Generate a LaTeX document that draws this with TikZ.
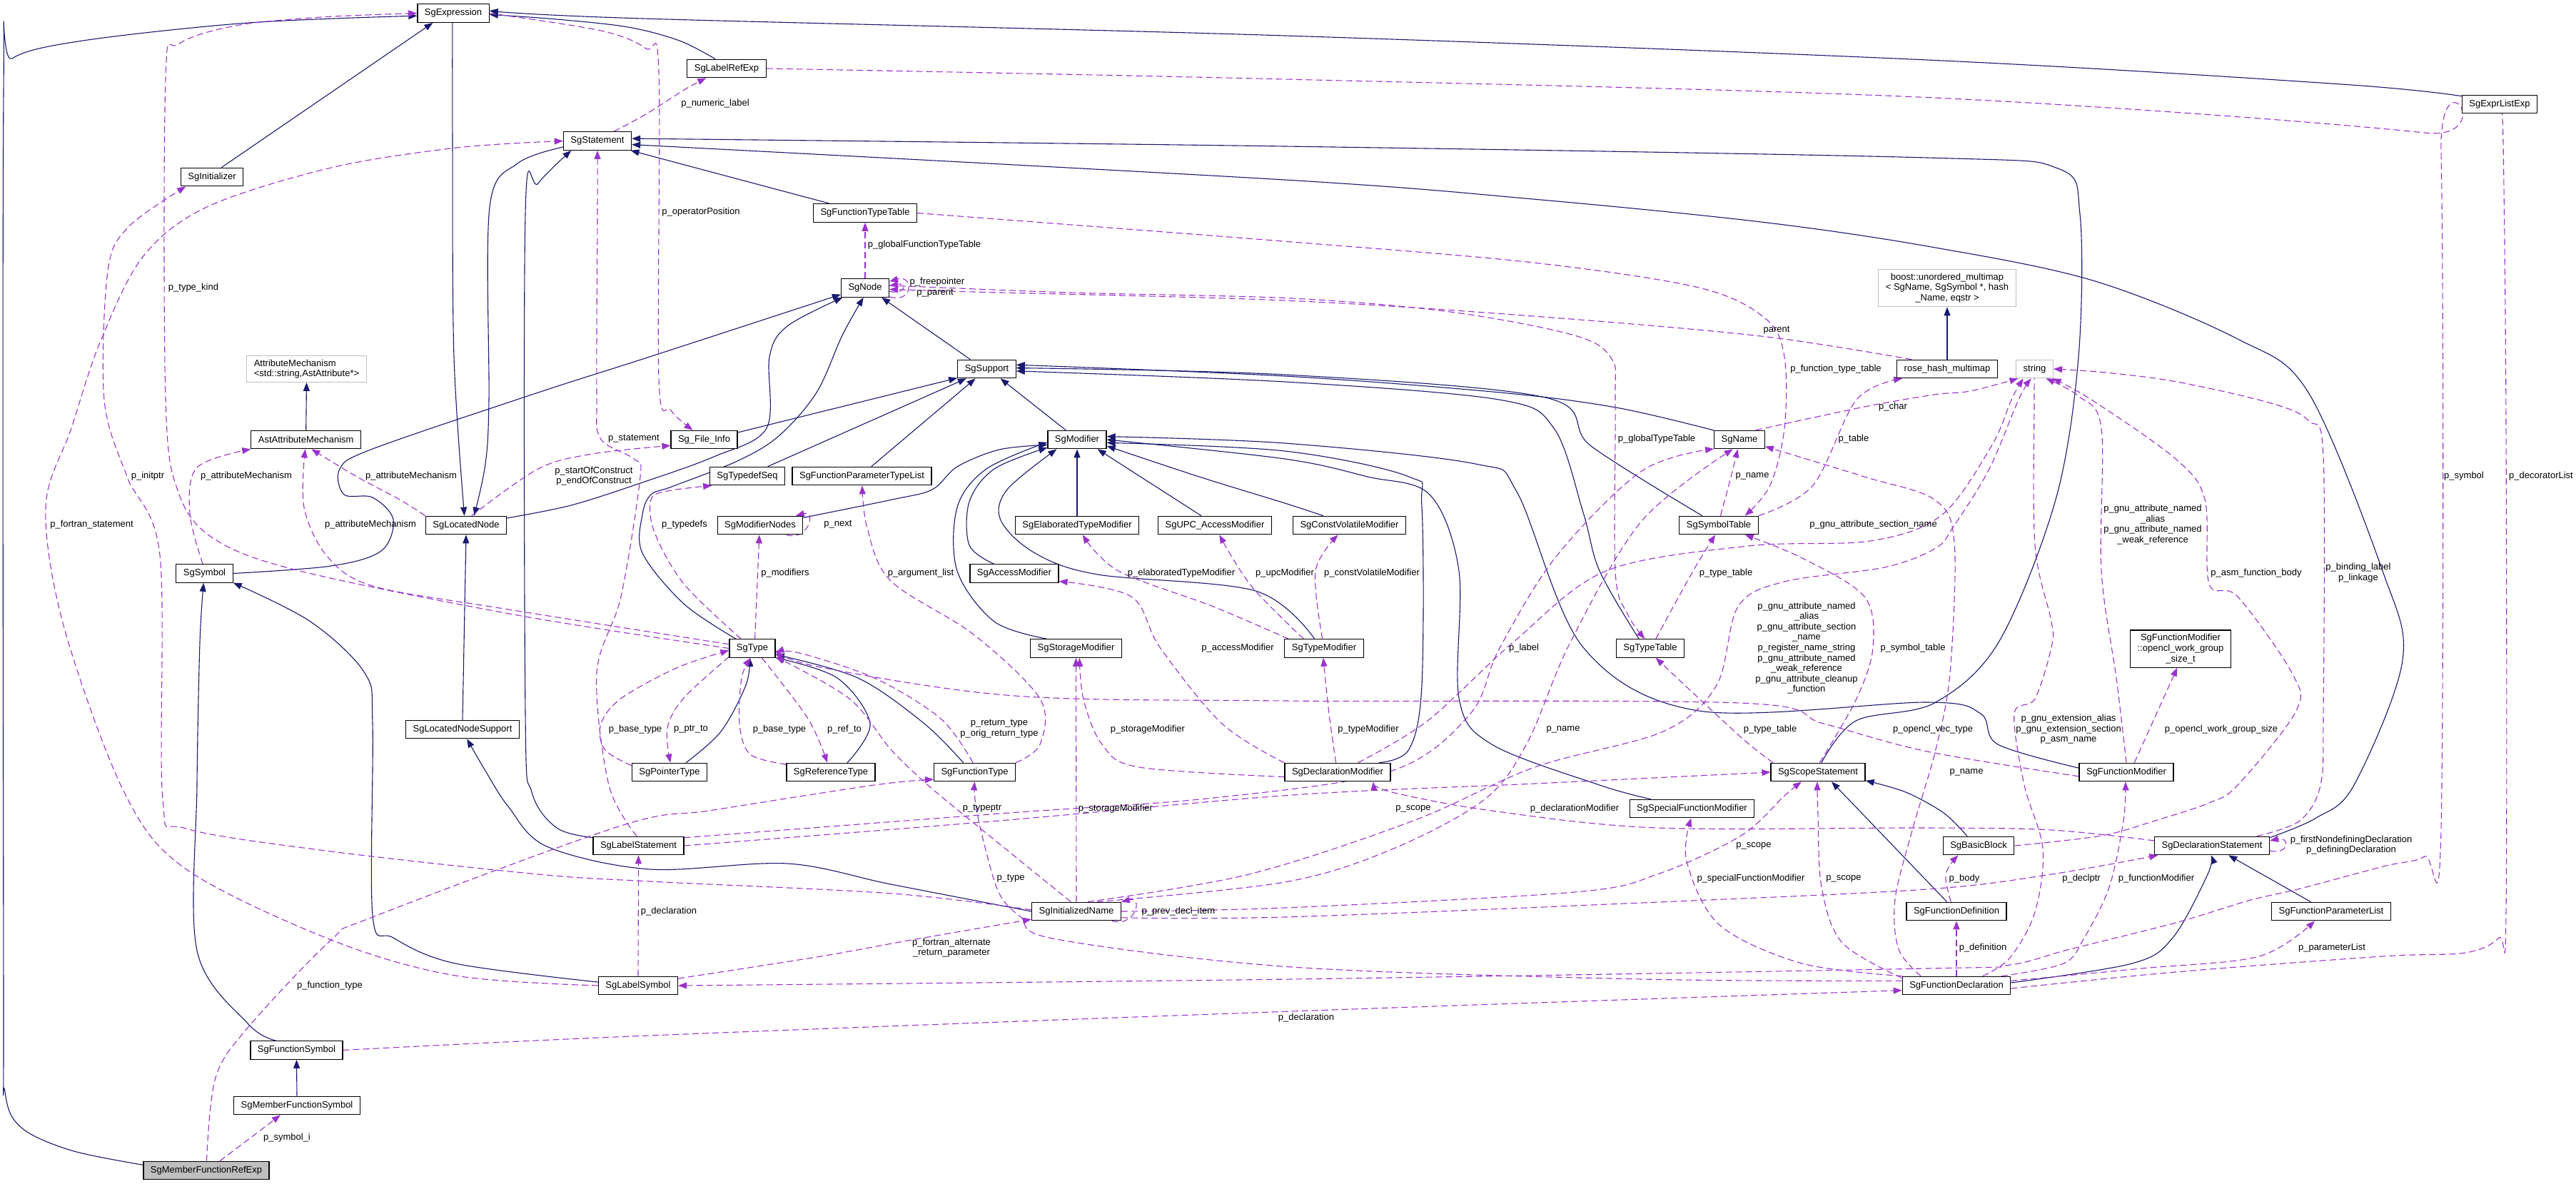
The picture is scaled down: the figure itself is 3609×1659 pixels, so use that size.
\documentclass[tikz,border=0pt]{standalone}
\usepackage{fontspec}
\setmainfont{Liberation Sans}
\usetikzlibrary{arrows.meta}
\definecolor{inhc}{HTML}{191970}
\definecolor{usec}{HTML}{9A32CD}
\definecolor{grayb}{HTML}{BFBFBF}
\pgfdeclarelayer{bg}
\pgfdeclarelayer{edges}
\pgfsetlayers{bg,edges,main}
\begin{document}
\begin{tikzpicture}[x=1pt,y=-1pt,
 cls/.style={draw=black,line width=1.2pt,fill=white,inner xsep=10pt,inner ysep=0pt,minimum height=25.5pt,font=\fontsize{13}{14.6}\selectfont,align=center},
 extcls/.style={cls,draw=grayb},
 lbl/.style={inner sep=0pt,font=\fontsize{13}{14.6}\selectfont,align=center},
 inhe/.style={draw=inhc,line width=1.1pt,-{Triangle[length=12pt,width=9pt]}},
 usage/.style={draw=usec,line width=1.1pt,dash pattern=on 9pt off 5pt,-{Triangle[length=12pt,width=9pt]}},
 sm/.style={smooth,tension=0.55}
]
\useasboundingbox (0,0) rectangle (3609,1659);
\begin{pgfonlayer}{bg}
\fill[white] (0,0) rectangle (3609,1659);
\end{pgfonlayer}

% ---------- classes ----------
\node[cls] (expr) at (635,18.6) {SgExpression};
\node[cls] (init) at (297,248) {SgInitializer};
\node[cls] (labelref) at (1018,96) {SgLabelRefExp};
\node[cls] (exprlist) at (3502,146) {SgExprListExp};
\node[cls] (stmt) at (837,197.5) {SgStatement};
\node[cls] (ftt) at (1212,298.5) {SgFunctionTypeTable};
\node[cls] (sgnode) at (1212,403.5) {SgNode};
\node[extcls,inner ysep=5.5pt] (boost) at (2728,403.5) {boost::unordered\_multimap\\< SgName, SgSymbol *, hash\\\_Name, eqstr >};
\node[cls] (support) at (1382.5,517) {SgSupport};
\node[cls] (rose) at (2728,517) {rose\_hash\_multimap};
\node[extcls] (string) at (2850.5,517) {string};
\node[extcls,align=left,inner ysep=5pt] (attrm) at (429.5,517) {AttributeMechanism\\<std::string,AstAttribute*>};
\node[cls] (astattr) at (428.7,616) {AstAttributeMechanism};
\node[cls] (fileinfo) at (986.5,616) {Sg\_File\_Info};
\node[cls] (modifier) at (1509,616) {SgModifier};
\node[cls] (name) at (2437,616) {SgName};
\node[cls] (typedefseq) at (1047,667) {SgTypedefSeq};
\node[cls] (fptl) at (1207.5,667) {SgFunctionParameterTypeList};
\node[cls] (located) at (653,736) {SgLocatedNode};
\node[cls] (modnodes) at (1065,736) {SgModifierNodes};
\node[cls] (elab) at (1509,736) {SgElaboratedTypeModifier};
\node[cls] (upc) at (1702,736) {SgUPC\_AccessModifier};
\node[cls] (cv) at (1890.5,736) {SgConstVolatileModifier};
\node[cls] (symtab) at (2408,736) {SgSymbolTable};
\node[cls] (symbol) at (286.5,803.5) {SgSymbol};
\node[cls] (access) at (1421,803.5) {SgAccessModifier};
\node[cls] (type) at (1054,908.5) {SgType};
\node[cls] (storage) at (1507.5,908.5) {SgStorageModifier};
\node[cls] (typemod) at (1855,908.5) {SgTypeModifier};
\node[cls] (typetab) at (2312,908.5) {SgTypeTable};
\node[cls,inner ysep=5.5pt] (opencl) at (3055,909) {SgFunctionModifier\\::opencl\_work\_group\\\_size\_t};
\node[cls] (lnsupport) at (648,1022) {SgLocatedNodeSupport};
\node[cls] (ptr) at (938,1082) {SgPointerType};
\node[cls] (ref) at (1164,1082) {SgReferenceType};
\node[cls] (ftype) at (1365.5,1082) {SgFunctionType};
\node[cls] (declmod) at (1874,1082) {SgDeclarationModifier};
\node[cls] (scope) at (2547,1082) {SgScopeStatement};
\node[cls] (fmod) at (2979,1082) {SgFunctionModifier};
\node[cls] (sfmod) at (2370.5,1133) {SgSpecialFunctionModifier};
\node[cls] (labelstmt) at (894.5,1185) {SgLabelStatement};
\node[cls] (bblock) at (2772,1185) {SgBasicBlock};
\node[cls] (declstmt) at (3099,1185) {SgDeclarationStatement};
\node[cls] (initname) at (1508,1277) {SgInitializedName};
\node[cls] (fdef) at (2741,1277) {SgFunctionDefinition};
\node[cls] (fparlist) at (3266,1277) {SgFunctionParameterList};
\node[cls] (labelsym) at (894,1381) {SgLabelSymbol};
\node[cls] (fdecl) at (2741,1381) {SgFunctionDeclaration};
\node[cls] (fsym) at (415.5,1471.5) {SgFunctionSymbol};
\node[cls] (mfsym) at (416,1549) {SgMemberFunctionSymbol};
\node[cls,fill=grayb] (mfref) at (289,1640) {SgMemberFunctionRefExp};

% ---------- edge labels ----------
\node[lbl] (t1) at (271,403) {p\_type\_kind};
\node[lbl] (t2) at (1002,145) {p\_numeric\_label};
\node[lbl] (t3) at (982,297.5) {p\_operatorPosition};
\node[lbl] (t4) at (1295,343) {p\_globalFunctionTypeTable};
\node[lbl] (t5) at (1313,395) {p\_freepointer};
\node[lbl] (t6) at (1310,410.7) {p\_parent};
\node[lbl] (t7) at (2489,463) {parent};
\node[lbl] (t8) at (2572,517) {p\_function\_type\_table};
\node[lbl] (t9) at (888,615) {p\_statement};
\node[lbl] (t10) at (207,667) {p\_initptr};
\node[lbl] (t11) at (345,667) {p\_attributeMechanism};
\node[lbl] (t12) at (576,667) {p\_attributeMechanism};
\node[lbl] (t13) at (832,667) {p\_startOfConstruct\\p\_endOfConstruct};
\node[lbl] (t14) at (128.5,735) {p\_fortran\_statement};
\node[lbl] (t15) at (519,735) {p\_attributeMechanism};
\node[lbl] (t16) at (959,735) {p\_typedefs};
\node[lbl] (t17) at (1174,735) {p\_next};
\node[lbl] (t18) at (1100,803) {p\_modifiers};
\node[lbl] (t19) at (1290,803) {p\_argument\_list};
\node[lbl] (t20) at (1655,803) {p\_elaboratedTypeModifier};
\node[lbl] (t21) at (1800,803) {p\_upcModifier};
\node[lbl] (t22) at (1922,803) {p\_constVolatileModifier};
\node[lbl] (t23) at (1734,908.5) {p\_accessModifier};
\node[lbl] (t24) at (2321,615) {p\_globalTypeTable};
\node[lbl] (t25) at (2652,570) {p\_char};
\node[lbl] (t26) at (2597,615) {p\_table};
\node[lbl] (t27) at (2455,667) {p\_name};
\node[lbl] (t28) at (2624.5,735) {p\_gnu\_attribute\_section\_name};
\node[lbl] (t29) at (2418,803) {p\_type\_table};
\node[lbl] (t30) at (2135,908.5) {p\_label};
\node[lbl] (t31) at (2531,908) {p\_gnu\_attribute\_named\\\_alias\\p\_gnu\_attribute\_section\\\_name\\p\_register\_name\_string\\p\_gnu\_attribute\_named\\\_weak\_reference\\p\_gnu\_attribute\_cleanup\\\_function};
\node[lbl] (t32) at (2680,908.5) {p\_symbol\_table};
\node[lbl] (t33) at (3016,735) {p\_gnu\_attribute\_named\\\_alias\\p\_gnu\_attribute\_named\\\_weak\_reference};
\node[lbl] (t34) at (3161,803) {p\_asm\_function\_body};
\node[lbl] (t35) at (3304,802.5) {p\_binding\_label\\p\_linkage};
\node[lbl] (t36) at (3452,667) {p\_symbol};
\node[lbl] (t37) at (3560,667) {p\_decoratorList};
\node[lbl] (t38) at (890,1022) {p\_base\_type};
\node[lbl] (t39) at (968,1022) {p\_ptr\_to};
\node[lbl] (t40) at (1092,1022) {p\_base\_type};
\node[lbl] (t41) at (1183,1022) {p\_ref\_to};
\node[lbl] (t42) at (1400,1021) {p\_return\_type\\p\_orig\_return\_type};
\node[lbl] (t43) at (1608,1022) {p\_storageModifier};
\node[lbl] (t44) at (1917,1022) {p\_typeModifier};
\node[lbl] (t45) at (2190,1022) {p\_name};
\node[lbl] (t46) at (2480,1022) {p\_type\_table};
\node[lbl] (t47) at (2708,1022) {p\_opencl\_vec\_type};
\node[lbl] (t48) at (2898,1022) {p\_gnu\_extension\_alias\\p\_gnu\_extension\_section\\p\_asm\_name};
\node[lbl] (t49) at (3112,1022) {p\_opencl\_work\_group\_size};
\node[lbl] (t50) at (2755,1082) {p\_name};
\node[lbl] (t51) at (1376,1133) {p\_typeptr};
\node[lbl] (t52) at (1563,1133) {p\_storageModifier};
\node[lbl] (t53) at (1980,1133) {p\_scope};
\node[lbl] (t54) at (2206,1133) {p\_declarationModifier};
\node[lbl] (t55) at (3294,1184) {p\_firstNondefiningDeclaration\\p\_definingDeclaration};
\node[lbl] (t56) at (2457,1185) {p\_scope};
\node[lbl] (t57) at (1416,1231) {p\_type};
\node[lbl] (t58) at (2453,1231) {p\_specialFunctionModifier};
\node[lbl] (t59) at (2583,1231) {p\_scope};
\node[lbl] (t60) at (2752,1231) {p\_body};
\node[lbl] (t61) at (2916,1231) {p\_declptr};
\node[lbl] (t62) at (3021,1231) {p\_functionModifier};
\node[lbl] (t63) at (937,1277) {p\_declaration};
\node[lbl] (t64) at (1651,1277) {p\_prev\_decl\_item};
\node[lbl] (t65) at (1333,1328) {p\_fortran\_alternate\\\_return\_parameter};
\node[lbl] (t66) at (2778,1328.5) {p\_definition};
\node[lbl] (t67) at (3267,1328.5) {p\_parameterList};
\node[lbl] (t68) at (462,1381) {p\_function\_type};
\node[lbl] (t69) at (1830,1426) {p\_declaration};
\node[lbl] (t70) at (402,1594) {p\_symbol\_i};

\begin{pgfonlayer}{edges}
% ---------- inheritance ----------
\draw[inhe] plot[sm] coordinates {(mfref.175) (100,1612) (30,1580) (7,1530) (5,1400) (5,130) (17,82) (116,57) (348,32) (expr.-176)};
\draw[inhe] (init.45) -- (expr.-155);
\draw[inhe] plot[sm] coordinates {(labelref.140) (952,57) (880,38) (780,27) (expr.-2)};
\draw[inhe] plot[sm] coordinates {(exprlist.168) (3280,118) (2700,84) (1800,50) (900,26) (expr.4)};
\draw[inhe] plot[sm] coordinates {(expr.-95) (634,200) (636,500) (located.100)};
\draw[inhe] plot[sm] coordinates {(stmt.-170) (725,229) (686,290) (685,560) (680,650) (located.50)};
\draw[inhe] plot[sm] coordinates {(labelstmt.170) (780,1160) (745,1110) (736,1000) (736,300) (754,257) (stmt.-160)};
\draw[inhe] plot[sm] coordinates {(scope.70) (2600,1010) (2710,985) (2800,900) (2880,700) (2912,500) (2914,300) (2883,236) (2700,221) (1800,205) (stmt.4)};
\draw[inhe] plot[sm] coordinates {(declstmt.8) (3245,1146) (3298,1100) (3366,925) (3338,800) (3234,550) (3135,475) (2932,393) (2700,345) (2467,311) (2148,279) (1800,252) (stmt.-6)};
\draw[inhe] (ftt.165) -- (stmt.-16);
\draw[inhe] (lnsupport.north) -- (located.south);
\draw[inhe] plot[sm] coordinates {(initname.west) (1248,1239) (1103,1210) (910,1218) (766,1186) (712,1130) (680,1080) (lnsupport.-65)};
\draw[inhe] plot[sm] coordinates {(labelsym.175) (638,1350) (551,1314) (522,1282) (522,1014) (511,943) (435,871) (symbol.-18)};
\draw[inhe] plot[sm] coordinates {(fsym.155) (348,1435) (276,1332) (276,1100) (280,900) (symbol.-95)};
\draw[inhe] (mfsym.north) -- (fsym.south);
\draw[inhe] (astattr.north) -- (attrm.south);
\draw[inhe] (rose.north) -- (boost.south);
\draw[inhe] (support.150) -- (sgnode.-30);
\draw[inhe] plot[sm] coordinates {(located.10) (800,708) (900,676) (1000,640) (1074,600) (1078,500) (1103,457) (sgnode.-157)};
\draw[inhe] plot[sm] coordinates {(symbol.east) (464,793) (534,772) (551,728) (522,697) (482,693) (476,657) (522,629) (754,550) (910,500) (sgnode.-165)};
\draw[inhe] plot[sm] coordinates {(type.150) (958,846) (900,775) (900,721) (912,693) (941,682) (1033,646) (1091,611) (1144,550) (1180,470) (sgnode.-100)};
\draw[inhe] (fileinfo.12) -- (support.-163);
\draw[inhe] (typedefseq.25) -- (support.-155);
\draw[inhe] (fptl.45) -- (support.-140);
\draw[inhe] (modifier.140) -- (support.-35);
\draw[inhe] plot[sm] coordinates {(name.160) (2264,571) (2102,550) (1800,527) (support.8)};
\draw[inhe] plot[sm] coordinates {(symtab.150) (2229,625) (2165,557) (1800,525) (support.2)};
\draw[inhe] plot[sm] coordinates {(typetab.140) (2241,800) (2218,718) (2177,600) (2100,560) (1800,535) (support.-4)};
\draw[inhe] plot[sm] coordinates {(modnodes.10) (1250,700) (1306,686) (1341,654) (1400,630) (modifier.-170)};
\draw[inhe] (elab.north) -- (modifier.south);
\draw[inhe] (upc.145) -- (modifier.-25);
\draw[inhe] plot[sm] coordinates {(cv.160) (1800,705) (1680,668) (modifier.-12)};
\draw[inhe] plot[sm] coordinates {(access.155) (1358,764) (1358,703) (1393,657) (modifier.-165)};
\draw[inhe] plot[sm] coordinates {(storage.162) (1393,871) (1341,800) (1341,711) (1382,657) (modifier.-175)};
\draw[inhe] plot[sm] coordinates {(typemod.135) (1759,828) (1538,805) (1450,775) (1402,729) (1411,686) (modifier.-155)};
\draw[inhe] plot[sm] coordinates {(declmod.13) (1974,1050) (1992,960) (1992,711) (1974,668) (1800,632) (modifier.-6)};
\draw[inhe] plot[sm] coordinates {(sfmod.167) (2241,1100) (2090,1043) (2044,978) (2044,800) (2003,693) (1916,668) (1800,643) (modifier.0)};
\draw[inhe] plot[sm] coordinates {(fmod.175) (2799,1043) (2775,1000) (2700,984) (2380,996) (2218,907) (2125,689) (2067,650) (1800,621) (modifier.6)};
\draw[inhe] plot[sm] coordinates {(ptr.30) (1010,1025) (1045,960) (type.-105)};
\draw[inhe] plot[sm] coordinates {(ref.30) (1219,1014) (1173,950) (type.-22)};
\draw[inhe] plot[sm] coordinates {(ftype.140) (1295,1014) (1202,950) (type.-15)};
\draw[inhe] plot[sm] coordinates {(bblock.140) (2723,1139) (2670,1110) (scope.-10)};
\draw[inhe] (fdef.135) -- (scope.-35);
\draw[inhe] plot[sm] coordinates {(fdecl.3) (2987,1350) (3044,1314) (3093,1225) (declstmt.-95)};
\draw[inhe] (fparlist.155) -- (declstmt.-30);

% ---------- usage ----------
\draw[usage] plot[sm] coordinates {(type.west) (725,862) (420,800) (300,755) (250,690) (232,560) (232,110) (250,62) (330,36) (450,24) (expr.west)};
\draw[usage] plot[sm] coordinates {(initname.178) (1250,1252) (910,1235) (754,1225) (464,1193) (261,1161) (228,1120) (224,778) (178,668) (146,560) (151,380) (180,318) (init.-160)};
\draw[usage] plot[sm] coordinates {(labelsym.west) (638,1367) (464,1317) (261,1218) (174,1110) (90,880) (64,711) (100,600) (140,480) (200,360) (290,290) (464,235) (640,207) (stmt.west)};
\draw[usage] plot[sm] coordinates {(symbol.100) (266,720) (276,655) (astattr.south west)};
\draw[usage] plot[sm] coordinates {(type.170) (700,852) (522,821) (458,779) (426,711) (astattr.-95)};
\draw[usage] plot[sm] coordinates {(located.north west) (560,700) (500,668) (astattr.-60)};
\draw[usage] plot[sm] coordinates {(stmt.30) (905,160) (960,125) (labelref.-155)};
\draw[usage] plot[sm] coordinates {(expr.east) (842,43) (905,68) (923,100) (923,530) (940,575) (fileinfo.140)};
\draw[usage] plot[sm] coordinates {(located.60) (754,657) (830,636) (fileinfo.-170)};
\draw[usage] plot[sm] coordinates {(labelstmt.100) (853,1100) (836,943) (870,836) (897,668) (888,643) (841,614) (836,550) (837,300) (stmt.south)};
\draw[usage] (sgnode.-20) .. controls +(34,10) and +(34,-10) .. (sgnode.15);
\draw[usage] (sgnode.-8) .. controls +(24,5) and +(24,-5) .. (sgnode.5);
\draw[usage] (sgnode.north) -- (ftt.south);
\draw[usage] plot[sm] coordinates {(rose.165) (2467,471) (2148,443) (1800,421) (1364,409) (sgnode.-3)};
\draw[usage] plot[sm] coordinates {(sgnode.6) (1500,410) (1810,418) (2032,437) (2206,470) (2258,503) (2263,560) (2263,800) (2280,860) (typetab.120)};
\draw[usage] plot[sm] coordinates {(ftt.east) (1810,339) (2148,368) (2380,403) (2473,446) (2500,500) (2500,600) (2480,680) (symtab.20)};
\draw[usage] plot[sm] coordinates {(symtab.north east) (2540,680) (2601,560) (rose.-168)};
\draw[usage] plot[sm] coordinates {(name.30) (2612,570) (2710,553) (2760,548) (string.-150)};
\draw[usage] plot[sm] coordinates {(scope.80) (2601,979) (2624,907) (2612,836) (2525,782) (symtab.-20)};
\draw[usage] plot[sm] coordinates {(typetab.60) (2372,800) (symtab.-110)};
\draw[usage] plot[sm] coordinates {(scope.168) (2438,1032) (typetab.-60)};
\draw[usage] plot[sm] coordinates {(symtab.80) (2422,680) (name.-100)};
\draw[usage] plot[sm] coordinates {(labelstmt.10) (1400,1140) (1700,1118) (1950,1080) (2060,1000) (2100,910) (2180,780) (2300,660) (name.-160)};
\draw[usage] plot[sm] coordinates {(initname.25) (1800,1236) (1950,1190) (2080,1120) (2140,1040) (2200,900) (2300,730) (name.-125)};
\draw[usage] plot[sm] coordinates {(labelstmt.east) (1400,1150) (1810,1114) (2150,1098) (scope.west)};
\draw[usage] plot[sm] coordinates {(initname.east) (1800,1272) (2206,1250) (2322,1225) (2439,1171) (2500,1115) (scope.-150)};
\draw[usage] plot[sm] coordinates {(initname.-8) (1800,1285) (2300,1265) (2700,1246) (2874,1225) (declstmt.-170)};
\draw[usage] plot[sm] coordinates {(initname.40) (1750,1225) (1980,1150) (2150,1075) (2330,1025) (2405,960) (2435,850) (2500,815) (2640,795) (2712,768) (2738,736) (2787,657) (2828,560) (string.-110)};
\draw[usage] plot[sm] coordinates {(declmod.25) (2000,1010) (2120,900) (2250,800) (2450,765) (2620,758) (2720,722) (2790,625) (2818,560) (string.-140)};
\draw[usage] plot[sm] coordinates {(fdecl.20) (2816,1342) (2851,1278) (2862,1189) (2836,1100) (2822,1000) (2851,979) (2874,907) (2874,871) (2851,764) (2850,560) (string.-90)};
\draw[usage] plot[sm] coordinates {(fmod.north) (2965,950) (2944,800) (2944,600) (2912,555) (string.-40)};
\draw[usage] plot[sm] coordinates {(bblock.east) (2944,1171) (3019,1150) (3095,1125) (3135,1100) (3217,996) (3211,943) (3135,836) (3095,818) (3089,700) (3048,643) (2930,560) (string.-28)};
\draw[usage] plot[sm] coordinates {(declstmt.12) (3222,1150) (3251,1100) (3255,1000) (3255,640) (3235,590) (3182,565) (3050,535) (2950,522) (string.east)};
\draw[usage] plot[sm] coordinates {(labelref.east) (1800,111) (2710,137) (3396,186) (3420,215) (3420,1161) (3397,1200) (3339,1214) (3223,1245) (3150,1262) (3048,1293) (2900,1330) (2816,1352) (2700,1357) (1810,1372) (labelsym.east)};
\draw[usage] plot[sm] coordinates {(fdecl.-3) (3048,1362) (3338,1340) (3454,1335) (3501,1314) (3511,1278) (3511,600) (3507,200) (exprlist.-85)};
\draw[usage] (labelsym.north) -- (labelstmt.south);
\draw[usage] plot[sm] coordinates {(labelsym.10) (1150,1340) (1277,1317) (initname.-170)};
\draw[usage] plot[sm] coordinates {(fdecl.175) (2300,1372) (1810,1355) (1480,1316) (1430,1285) (1399,1250) (1376,1171) (1366,1120) (ftype.south)};
\draw[usage] plot[sm] coordinates {(initname.120) (1364,1153) (1300,1100) (1248,1050) (1190,979) (type.-20)};
\draw[usage] (initname.north) -- (storage.-90);
\draw[usage] (initname.-15) .. controls +(32,10) and +(32,-8) .. (initname.12);
\draw[usage] plot[sm] coordinates {(declmod.-175) (1596,1075) (1544,1043) (1518,980) (storage.-70)};
\draw[usage] plot[sm] coordinates {(declmod.170) (1712,1014) (1625,907) (1585,836) (access.-10)};
\draw[usage] plot[sm] coordinates {(declmod.100) (1862,1000) (typemod.-95)};
\draw[usage] plot[sm] coordinates {(typemod.165) (1700,850) (1567,800) (elab.-60)};
\draw[usage] plot[sm] coordinates {(typemod.155) (1753,821) (upc.-65)};
\draw[usage] plot[sm] coordinates {(typemod.100) (1843,800) (cv.-140)};
\draw[usage] (type.75) -- (modnodes.-95);
\draw[usage] (modnodes.-20) .. controls +(30,10) and +(30,-8) .. (modnodes.15);
\draw[usage] plot[sm] coordinates {(type.140) (958,818) (917,746) (912,700) (935,688) (typedefseq.-165)};
\draw[usage] plot[sm] coordinates {(ftype.13) (1457,1043) (1457,979) (1364,889) (1248,814) (1215,740) (fptl.-88)};
\draw[usage] plot[sm] coordinates {(ftype.100) (1318,1007) (1225,950) (1120,915) (type.-10)};
\draw[usage] plot[sm] coordinates {(type.-160) (958,978) (935,1020) (ptr.85)};
\draw[usage] plot[sm] coordinates {(ptr.170) (847,1050) (842,1014) (871,978) (950,935) (type.-175)};
\draw[usage] plot[sm] coordinates {(ref.170) (1051,1057) (1036,1014) (1039,950) (type.-100)};
\draw[usage] plot[sm] coordinates {(type.-45) (1132,1007) (ref.110)};
\draw[usage] plot[sm] coordinates {(fmod.-175) (2700,1053) (2555,1014) (2438,985) (1800,982) (1422,975) (1150,935) (type.-5)};
\draw[usage] (fmod.50) -- (opencl.-100);
\draw[usage] (declstmt.-5) .. controls +(28,6) and +(28,-6) .. (declstmt.5);
\draw[usage] plot[sm] coordinates {(declstmt.175) (2874,1163) (2700,1160) (2322,1160) (2090,1136) (1950,1110) (declmod.-15)};
\draw[usage] plot[sm] coordinates {(fdecl.172) (2581,1321) (2552,1243) (2547,1140) (scope.-95)};
\draw[usage] plot[sm] coordinates {(fdecl.170) (2525,1350) (2409,1296) (2363,1207) (sfmod.-95)};
\draw[usage] plot[sm] coordinates {(fdef.120) (2726,1225) (bblock.-155)};
\draw[usage] (fdecl.north) -- (fdef.south);
\draw[usage] plot[sm] coordinates {(fdecl.12) (2891,1350) (2920,1314) (2955,1243) (2975,1150) (fmod.-95)};
\draw[usage] plot[sm] coordinates {(fdecl.5) (3000,1357) (3165,1340) (fparlist.-150)};
\draw[usage] plot[sm] coordinates {(fsym.east) (910,1451) (1810,1417) (fdecl.-175)};
\draw[usage] plot[sm] coordinates {(mfref.88) (302,1510) (348,1439) (464,1317) (522,1285) (870,1157) (1000,1135) (1225,1100) (ftype.-170)};
\draw[usage] plot[sm] coordinates {(mfref.35) (350,1595) (mfsym.-150)};
\draw[usage] plot[sm] coordinates {(fdecl.165) (2660,1330) (2655,1260) (2680,1160) (2712,1050) (2732,943) (2738,760) (2710,700) (2612,668) (name.-15)};
\end{pgfonlayer}
\end{tikzpicture}
\end{document}
